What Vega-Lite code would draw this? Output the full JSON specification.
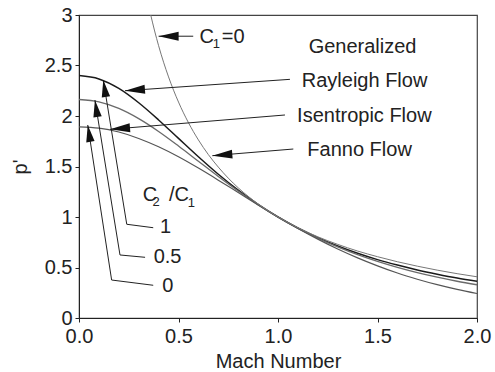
{
  "$schema": "https://vega.github.io/schema/vega-lite/v6.json",
  "width": 398,
  "height": 303,
  "autosize": {"type": "none"},
  "padding": {"left": 79, "top": 15, "right": 18, "bottom": 54},
  "background": "white",
  "config": {
    "font": "Liberation Sans",
    "view": {"stroke": "#444", "strokeWidth": 1.2},
    "axis": {
      "grid": false,
      "domainColor": "#222",
      "tickColor": "#222",
      "tickSize": 4,
      "labelFontSize": 20,
      "labelColor": "#222",
      "titleFontSize": 20,
      "titleFontWeight": "normal",
      "titleColor": "#222",
      "labelFlush": false,
      "labelOverlap": false
    }
  },
  "datasets": {
    "curves": [
      {"curve": "Rayleigh", "M": 0, "p": 2.4},
      {"curve": "Rayleigh", "M": 0.1, "p": 2.367},
      {"curve": "Rayleigh", "M": 0.2, "p": 2.273},
      {"curve": "Rayleigh", "M": 0.3, "p": 2.131},
      {"curve": "Rayleigh", "M": 0.4, "p": 1.961},
      {"curve": "Rayleigh", "M": 0.5, "p": 1.778},
      {"curve": "Rayleigh", "M": 0.6, "p": 1.596},
      {"curve": "Rayleigh", "M": 0.7, "p": 1.423},
      {"curve": "Rayleigh", "M": 0.8, "p": 1.266},
      {"curve": "Rayleigh", "M": 0.9, "p": 1.125},
      {"curve": "Rayleigh", "M": 1.0, "p": 1.0},
      {"curve": "Rayleigh", "M": 1.1, "p": 0.891},
      {"curve": "Rayleigh", "M": 1.2, "p": 0.796},
      {"curve": "Rayleigh", "M": 1.3, "p": 0.713},
      {"curve": "Rayleigh", "M": 1.4, "p": 0.641},
      {"curve": "Rayleigh", "M": 1.5, "p": 0.578},
      {"curve": "Rayleigh", "M": 1.6, "p": 0.524},
      {"curve": "Rayleigh", "M": 1.7, "p": 0.476},
      {"curve": "Rayleigh", "M": 1.8, "p": 0.434},
      {"curve": "Rayleigh", "M": 1.9, "p": 0.396},
      {"curve": "Rayleigh", "M": 2.0, "p": 0.364},
      {"curve": "Half", "M": 0, "p": 2.163},
      {"curve": "Half", "M": 0.1, "p": 2.140},
      {"curve": "Half", "M": 0.2, "p": 2.075},
      {"curve": "Half", "M": 0.3, "p": 1.974},
      {"curve": "Half", "M": 0.4, "p": 1.847},
      {"curve": "Half", "M": 0.5, "p": 1.703},
      {"curve": "Half", "M": 0.6, "p": 1.552},
      {"curve": "Half", "M": 0.7, "p": 1.401},
      {"curve": "Half", "M": 0.8, "p": 1.257},
      {"curve": "Half", "M": 0.9, "p": 1.123},
      {"curve": "Half", "M": 1.0, "p": 1.0},
      {"curve": "Half", "M": 1.1, "p": 0.890},
      {"curve": "Half", "M": 1.2, "p": 0.791},
      {"curve": "Half", "M": 1.3, "p": 0.704},
      {"curve": "Half", "M": 1.4, "p": 0.627},
      {"curve": "Half", "M": 1.5, "p": 0.560},
      {"curve": "Half", "M": 1.6, "p": 0.501},
      {"curve": "Half", "M": 1.7, "p": 0.449},
      {"curve": "Half", "M": 1.8, "p": 0.404},
      {"curve": "Half", "M": 1.9, "p": 0.364},
      {"curve": "Half", "M": 2.0, "p": 0.329},
      {"curve": "Isentropic", "M": 0, "p": 1.893},
      {"curve": "Isentropic", "M": 0.1, "p": 1.880},
      {"curve": "Isentropic", "M": 0.2, "p": 1.841},
      {"curve": "Isentropic", "M": 0.3, "p": 1.778},
      {"curve": "Isentropic", "M": 0.4, "p": 1.695},
      {"curve": "Isentropic", "M": 0.5, "p": 1.596},
      {"curve": "Isentropic", "M": 0.6, "p": 1.484},
      {"curve": "Isentropic", "M": 0.7, "p": 1.365},
      {"curve": "Isentropic", "M": 0.8, "p": 1.242},
      {"curve": "Isentropic", "M": 0.9, "p": 1.119},
      {"curve": "Isentropic", "M": 1.0, "p": 1.0},
      {"curve": "Isentropic", "M": 1.1, "p": 0.887},
      {"curve": "Isentropic", "M": 1.2, "p": 0.781},
      {"curve": "Isentropic", "M": 1.3, "p": 0.683},
      {"curve": "Isentropic", "M": 1.4, "p": 0.595},
      {"curve": "Isentropic", "M": 1.5, "p": 0.516},
      {"curve": "Isentropic", "M": 1.6, "p": 0.445},
      {"curve": "Isentropic", "M": 1.7, "p": 0.384},
      {"curve": "Isentropic", "M": 1.8, "p": 0.330},
      {"curve": "Isentropic", "M": 1.9, "p": 0.283},
      {"curve": "Isentropic", "M": 2.0, "p": 0.242},
      {"curve": "Fanno", "M": 0.36, "p": 3.004},
      {"curve": "Fanno", "M": 0.38, "p": 2.842},
      {"curve": "Fanno", "M": 0.4, "p": 2.696},
      {"curve": "Fanno", "M": 0.45, "p": 2.387},
      {"curve": "Fanno", "M": 0.5, "p": 2.138},
      {"curve": "Fanno", "M": 0.55, "p": 1.934},
      {"curve": "Fanno", "M": 0.6, "p": 1.763},
      {"curve": "Fanno", "M": 0.65, "p": 1.618},
      {"curve": "Fanno", "M": 0.7, "p": 1.494},
      {"curve": "Fanno", "M": 0.75, "p": 1.385},
      {"curve": "Fanno", "M": 0.8, "p": 1.289},
      {"curve": "Fanno", "M": 0.85, "p": 1.205},
      {"curve": "Fanno", "M": 0.9, "p": 1.129},
      {"curve": "Fanno", "M": 1.0, "p": 1.0},
      {"curve": "Fanno", "M": 1.1, "p": 0.894},
      {"curve": "Fanno", "M": 1.2, "p": 0.804},
      {"curve": "Fanno", "M": 1.3, "p": 0.729},
      {"curve": "Fanno", "M": 1.4, "p": 0.663},
      {"curve": "Fanno", "M": 1.5, "p": 0.607},
      {"curve": "Fanno", "M": 1.6, "p": 0.557},
      {"curve": "Fanno", "M": 1.7, "p": 0.513},
      {"curve": "Fanno", "M": 1.8, "p": 0.474},
      {"curve": "Fanno", "M": 1.9, "p": 0.439},
      {"curve": "Fanno", "M": 2.0, "p": 0.408}
    ],
    "leaders": [
      {"g": "c1", "o": 0, "M": 0.574, "p": 2.79},
      {"g": "c1", "o": 1, "M": 0.40, "p": 2.79},
      {"g": "ray", "o": 0, "M": 1.060, "p": 2.363},
      {"g": "ray", "o": 1, "M": 0.231, "p": 2.25},
      {"g": "ise", "o": 0, "M": 1.035, "p": 2.01},
      {"g": "ise", "o": 1, "M": 0.156, "p": 1.868},
      {"g": "fan", "o": 0, "M": 1.077, "p": 1.673},
      {"g": "fan", "o": 1, "M": 0.67, "p": 1.607},
      {"g": "k1", "o": 0, "M": 0.373, "p": 0.894},
      {"g": "k1", "o": 1, "M": 0.24, "p": 0.928},
      {"g": "k1", "o": 2, "M": 0.122, "p": 2.356},
      {"g": "k05", "o": 0, "M": 0.332, "p": 0.601},
      {"g": "k05", "o": 1, "M": 0.206, "p": 0.624},
      {"g": "k05", "o": 2, "M": 0.080, "p": 2.158},
      {"g": "k0", "o": 0, "M": 0.373, "p": 0.324},
      {"g": "k0", "o": 1, "M": 0.164, "p": 0.376},
      {"g": "k0", "o": 2, "M": 0.044, "p": 1.911}
    ],
    "headsFlat": [
      {"M": 0.40, "p": 2.79}
    ],
    "headsLeft": [
      {"M": 0.231, "p": 2.25},
      {"M": 0.156, "p": 1.868},
      {"M": 0.67, "p": 1.607}
    ],
    "headsUp": [
      {"M": 0.122, "p": 2.356},
      {"M": 0.080, "p": 2.158},
      {"M": 0.044, "p": 1.911}
    ],
    "labels": [
      {"t": "Generalized", "M": 1.425, "p": 2.686},
      {"t": "Rayleigh Flow", "M": 1.435, "p": 2.345},
      {"t": "Isentropic Flow", "M": 1.434, "p": 1.998},
      {"t": "Fanno Flow", "M": 1.41, "p": 1.666},
      {"t": "C", "M": 0.642, "p": 2.78},
      {"t": "=0", "M": 0.775, "p": 2.78},
      {"t": "C", "M": 0.357, "p": 1.213},
      {"t": "/C", "M": 0.502, "p": 1.213},
      {"t": "1", "M": 0.435, "p": 0.901},
      {"t": "0.5", "M": 0.445, "p": 0.601},
      {"t": "0", "M": 0.446, "p": 0.314}
    ],
    "subs": [
      {"t": "1", "M": 0.69, "p": 2.716},
      {"t": "2", "M": 0.387, "p": 1.151},
      {"t": "1", "M": 0.564, "p": 1.136}
    ]
  },
  "layer": [
    {
      "data": {"name": "curves"},
      "mark": {"type": "line", "interpolate": "monotone", "clip": true},
      "encoding": {
        "x": {"field": "M", "type": "quantitative", "scale": {"domain": [0, 2]},
          "axis": {"title": "Mach Number", "values": [0, 0.5, 1, 1.5, 2], "format": ".1f", "labelPadding": 4, "titlePadding": 5}},
        "y": {"field": "p", "type": "quantitative", "scale": {"domain": [0, 3]},
          "axis": {"title": "p'", "values": [0, 0.5, 1, 1.5, 2, 2.5, 3], "format": "~g", "labelPadding": 3, "titlePadding": 14}},
        "detail": {"field": "curve"},
        "color": {"field": "curve", "type": "nominal", "legend": null,
          "scale": {"domain": ["Rayleigh", "Half", "Isentropic", "Fanno"], "range": ["#1a1a1a", "#6a6a6a", "#555555", "#777777"]}},
        "strokeWidth": {"field": "curve", "type": "nominal", "legend": null,
          "scale": {"domain": ["Rayleigh", "Half", "Isentropic", "Fanno"], "range": [1.5, 1, 1, 0.9]}}
      }
    },
    {
      "data": {"name": "leaders"},
      "mark": {"type": "line", "color": "#222", "strokeWidth": 1},
      "encoding": {
        "x": {"field": "M", "type": "quantitative"},
        "y": {"field": "p", "type": "quantitative"},
        "detail": {"field": "g"},
        "order": {"field": "o", "type": "quantitative"}
      }
    },
    {
      "data": {"name": "headsFlat"},
      "mark": {"type": "point", "shape": "M0,0 L2,-0.45 L2,0.45 Z", "size": 400, "filled": true, "color": "#111", "opacity": 1, "angle": 0},
      "encoding": {
        "x": {"field": "M", "type": "quantitative"},
        "y": {"field": "p", "type": "quantitative"}
      }
    },
    {
      "data": {"name": "headsLeft"},
      "mark": {"type": "point", "shape": "M0,0 L2,-0.45 L2,0.45 Z", "size": 400, "filled": true, "color": "#111", "opacity": 1, "angle": -4.5},
      "encoding": {
        "x": {"field": "M", "type": "quantitative"},
        "y": {"field": "p", "type": "quantitative"}
      }
    },
    {
      "data": {"name": "headsUp"},
      "mark": {"type": "point", "shape": "M0,0 L-0.42,1.7 L0.42,1.7 Z", "size": 400, "filled": true, "color": "#111", "opacity": 1, "angle": -9},
      "encoding": {
        "x": {"field": "M", "type": "quantitative"},
        "y": {"field": "p", "type": "quantitative"}
      }
    },
    {
      "data": {"name": "labels"},
      "mark": {"type": "text", "fontSize": 20, "color": "#222", "align": "center", "baseline": "middle"},
      "encoding": {
        "x": {"field": "M", "type": "quantitative"},
        "y": {"field": "p", "type": "quantitative"},
        "text": {"field": "t"}
      }
    },
    {
      "data": {"name": "subs"},
      "mark": {"type": "text", "fontSize": 13, "color": "#222", "align": "center", "baseline": "middle"},
      "encoding": {
        "x": {"field": "M", "type": "quantitative"},
        "y": {"field": "p", "type": "quantitative"},
        "text": {"field": "t"}
      }
    }
  ]
}
